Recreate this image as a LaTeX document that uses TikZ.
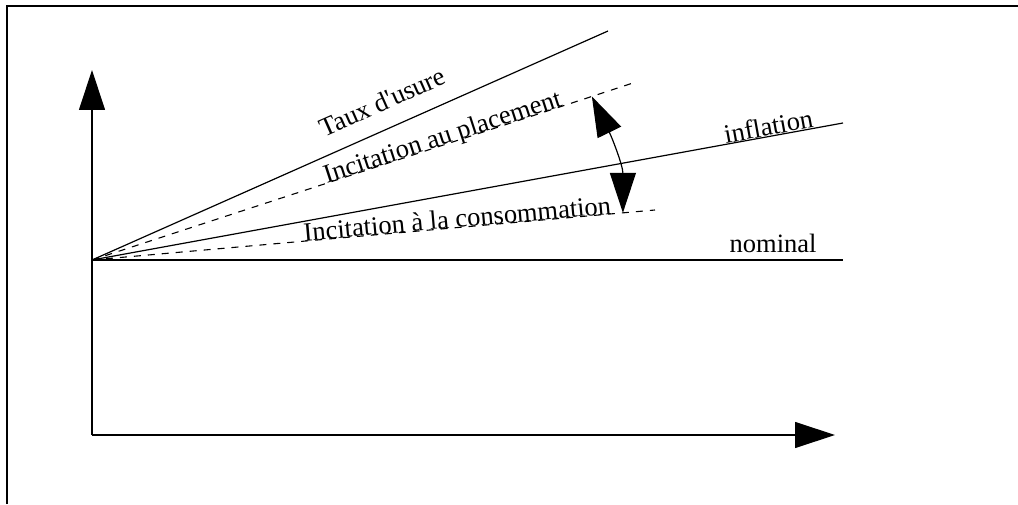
\documentclass[tikz,border=0pt]{standalone}
\usepackage{fontspec}
\setmainfont{Liberation Serif}
\newfontfamily\rawserif{Liberation Serif}
\usetikzlibrary{arrows.meta,calc}
\begin{document}
\begin{tikzpicture}[x=1pt,y=1pt,
  ln/.style={line width=1.2pt},
  dsh/.style={line width=1.1pt, dash pattern=on 7pt off 7pt},
  lbl/.style={font=\rawserif\fontsize{26.5}{30}\selectfont, inner sep=0pt, anchor=base},
  bigtip/.style={-{Triangle[length=40pt,width=26pt]}},
  frame/.style={line width=1.8pt}]
\fill[white] (0,0) rectangle (1018,504);
\useasboundingbox (0,0) rectangle (1018,504);
% frame
\coordinate (fl) at (7,0);
\coordinate (fc) at (7,498);
\coordinate (fr) at (1018,498);
\draw[frame] (fl) -- (fc) -- (fr);
% axes
\coordinate (O) at (92,244);
\coordinate (C) at (92,69);
\coordinate (Ytip) at (92,434);
\coordinate (Xtip) at (835,69);
\draw[ln, bigtip] (C) -- (Ytip);
\draw[ln, bigtip] (C) -- (Xtip);
% rate lines
\coordinate (te) at (608,473);
\coordinate (pe) at (633,421);
\coordinate (ie) at (843,381);
\coordinate (ce) at (655,294);
\coordinate (ne) at (843,244);
\draw[ln] (O) -- (te);
\draw[dsh] (O) -- node[lbl, sloped, pos=0.6525] (lp) {Incitation au placement} (pe);
\draw[ln] (O) -- node[lbl, sloped, pos=0.903, yshift=1pt] (li) {inflation} (ie);
\draw[dsh] (O) -- node[lbl, sloped, pos=0.65] (lc) {Incitation à la consommation} (ce);
\draw[ln] (O) -- node[lbl, pos=0.907, yshift=7pt] (ln) {nominal} (ne);
\node[lbl, rotate=23.9] (lt) at (386,394) {Taux d'usure};
% double arrow
\coordinate (at) at ($(O)!0.924!(pe)$);
\coordinate (ab) at ($(O)!0.943!(ce)$);
\draw[ln, {Triangle[length=40pt,width=26pt]}-{Triangle[length=40pt,width=26pt]}] (at) to[out=-64,in=90] (ab);
\end{tikzpicture}
\end{document}
